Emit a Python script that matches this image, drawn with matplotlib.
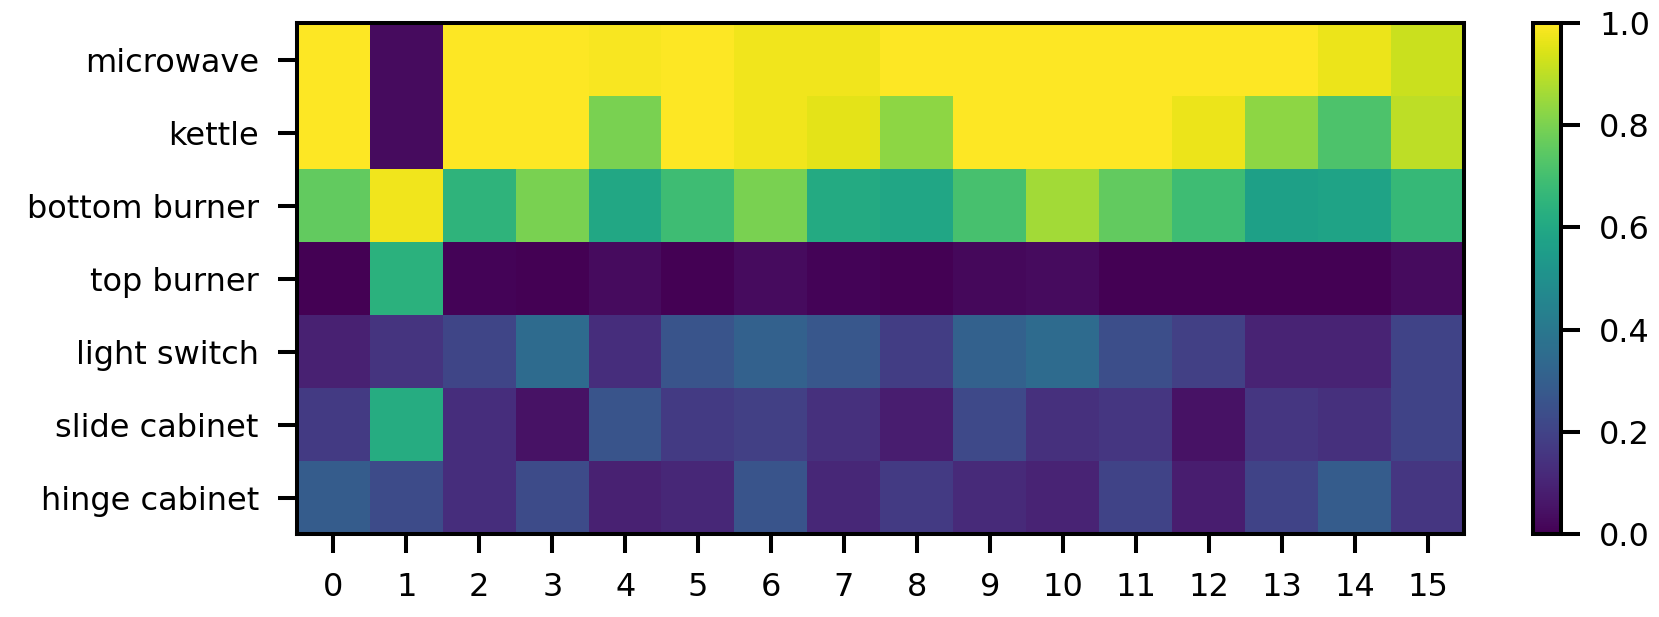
import numpy as np
import matplotlib
matplotlib.use("Agg")
import matplotlib.pyplot as plt

objects = ["microwave", "kettle", "bottom burner", "top burner",
           "light switch", "slide cabinet", "hinge cabinet"]
steps = list(range(16))

microwave     = [1.00, 0.03, 1.00, 1.00, 0.99, 1.00, 0.98, 0.98, 1.00, 1.00, 1.00, 1.00, 1.00, 1.00, 0.97, 0.92]
kettle        = [1.00, 0.03, 1.00, 1.00, 0.80, 1.00, 0.98, 0.96, 0.83, 1.00, 1.00, 1.00, 0.97, 0.83, 0.72, 0.90]
bottom_burner = [0.76, 0.98, 0.65, 0.80, 0.60, 0.69, 0.80, 0.61, 0.59, 0.71, 0.86, 0.76, 0.69, 0.57, 0.58, 0.67]
top_burner    = [0.00, 0.64, 0.01, 0.00, 0.03, 0.00, 0.03, 0.01, 0.00, 0.02, 0.03, 0.00, 0.00, 0.00, 0.00, 0.03]
light_switch  = [0.09, 0.15, 0.21, 0.35, 0.13, 0.26, 0.31, 0.27, 0.18, 0.31, 0.35, 0.24, 0.19, 0.10, 0.10, 0.20]
slide_cabinet = [0.17, 0.62, 0.13, 0.05, 0.26, 0.17, 0.19, 0.14, 0.08, 0.22, 0.14, 0.16, 0.05, 0.16, 0.14, 0.20]
hinge_cabinet = [0.29, 0.23, 0.13, 0.23, 0.09, 0.11, 0.26, 0.11, 0.17, 0.12, 0.10, 0.20, 0.08, 0.20, 0.29, 0.16]

data = np.array([microwave, kettle, bottom_burner, top_burner,
                 light_switch, slide_cabinet, hinge_cabinet])

W, H = 1659, 617
fig = plt.figure(figsize=(W / 100, H / 100), dpi=100)

def box(l, r, t, b):
    return [l / W, 1 - b / H, (r - l) / W, (b - t) / H]

ax = fig.add_axes(box(297, 1464, 23, 534))
cax = fig.add_axes(box(1533, 1561, 23, 534))

im = ax.imshow(data, cmap="viridis", vmin=0, vmax=1, aspect="auto",
               interpolation="nearest")
ax.set_xticks(range(len(steps)))
ax.set_xticklabels([str(s) for s in steps])
ax.set_yticks(range(len(objects)))
ax.set_yticklabels(objects)

fs = 23
lw = 2.9
for a in (ax, cax):
    for s in a.spines.values():
        s.set_linewidth(lw)
ax.tick_params(axis="both", labelsize=fs, length=13.5, width=lw, pad=14)

cb = fig.colorbar(im, cax=cax)
cb.set_ticks([0.0, 0.2, 0.4, 0.6, 0.8, 1.0])
cb.outline.set_linewidth(lw)
cax.tick_params(labelsize=fs, length=13.5, width=lw, pad=14)

fig.savefig("out.png", dpi=100)
